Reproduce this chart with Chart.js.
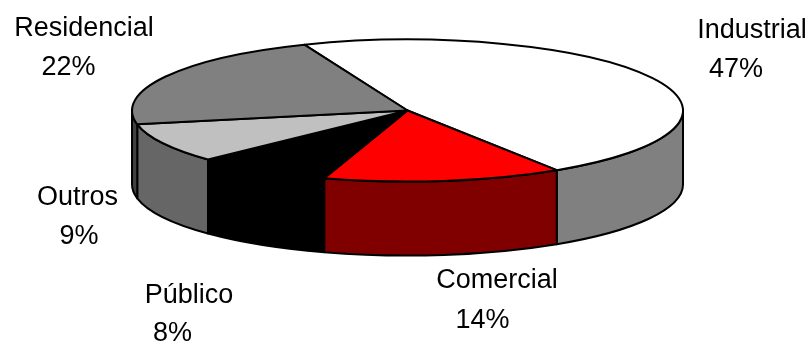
<!DOCTYPE html>
<html><head><meta charset="utf-8">
<script src="https://cdn.jsdelivr.net/npm/chart.js@4.4.1/dist/chart.umd.min.js"></script>
<style>html,body{margin:0;padding:0;background:#fff;overflow:hidden;}</style>
</head><body>
<canvas id="c" width="810" height="345" style="display:block;width:810px;height:345px"></canvas>
<script>
const categories = ['Industrial', 'Comercial', 'Público', 'Outros', 'Residencial'];
const shares = [47, 14, 8, 9, 22];
const percentLabels = ['47%', '14%', '8%', '9%', '22%'];
const topColors = ['#FFFFFF', '#FF0000', '#000000', '#C0C0C0', '#808080'];
const sideColors = ['#808080', '#800000', '#000000', '#666666', '#404040'];

// ellipse geometry of the tilted pie (layout only)
const GEO = {cx: 407.5, cy: 110.5, rx: 275.5, ry: 71, depth: 74};
// label placement: [nameX, nameBaseline, pctX, pctBaseline]
const LABEL_POS = [[752, 38, 736, 77], [497, 288, 482.5, 328], [189, 303, 172.5, 341], [77.5, 205, 79, 244], [84, 36, 68.5, 75]];

function drawSide(ctx, a1, a2, color) {
  const g = GEO;
  ctx.beginPath();
  ctx.ellipse(g.cx, g.cy, g.rx, g.ry, 0, a1, a2, false);
  ctx.lineTo(g.cx + g.rx * Math.cos(a2), g.cy + g.depth + g.ry * Math.sin(a2));
  ctx.ellipse(g.cx, g.cy + g.depth, g.rx, g.ry, 0, a2, a1, true);
  ctx.closePath();
  ctx.fillStyle = color;
  ctx.fill();
  ctx.stroke();
}

const pie3d = {
  id: 'pie3d',
  beforeDatasetsDraw(chart) {
    const arcs = chart.getDatasetMeta(0).data;
    if (!arcs.length) return;
    const ctx = chart.ctx;
    ctx.save();
    ctx.lineWidth = 2;
    ctx.strokeStyle = '#000';
    ctx.lineJoin = 'round';
    const TWO = Math.PI * 2;
    arcs.forEach((a, i) => {
      const s = a.startAngle, e = a.endAngle;
      for (const off of [-TWO, 0, TWO]) {
        const lo = Math.max(s, off), hi = Math.min(e, off + Math.PI);
        if (hi > lo) drawSide(ctx, lo - off, hi - off, sideColors[i]);
      }
    });
    ctx.restore();
    const a0 = arcs[0];
    const R = a0.outerRadius;
    ctx.save();
    ctx.translate(GEO.cx, GEO.cy);
    ctx.scale(GEO.rx / R, GEO.ry / R);
    ctx.translate(-a0.x, -a0.y);
    const orig = CanvasRenderingContext2D.prototype.stroke;
    ctx.stroke = function () {
      ctx.save();
      ctx.setTransform(1, 0, 0, 1, 0, 0);
      orig.apply(ctx, arguments);
      ctx.restore();
    };
  },
  afterDatasetsDraw(chart) {
    const ctx = chart.ctx;
    delete ctx.stroke;
    ctx.restore();
  },
  afterDraw(chart) {
    const ctx = chart.ctx;
    ctx.save();
    ctx.fillStyle = '#000';
    ctx.font = '27px "Liberation Sans", Arial, sans-serif';
    ctx.textAlign = 'center';
    ctx.textBaseline = 'alphabetic';
    chart.data.labels.forEach((lab, i) => {
      const p = LABEL_POS[i];
      ctx.fillText(lab, p[0], p[1]);
      ctx.fillText(percentLabels[i], p[2], p[3]);
    });
    ctx.restore();
  }
};

new Chart(document.getElementById('c'), {
  type: 'pie',
  data: {
    labels: categories,
    datasets: [{
      data: shares,
      backgroundColor: topColors,
      borderColor: '#000',
      borderWidth: 2,
      borderJoinStyle: 'round',
      clip: false
    }]
  },
  options: {
    responsive: false,
    animation: false,
    events: [],
    rotation: -22,
    layout: {padding: 20},
    plugins: {legend: {display: false}, tooltip: {enabled: false}}
  },
  plugins: [pie3d]
});
</script>
</body></html>
